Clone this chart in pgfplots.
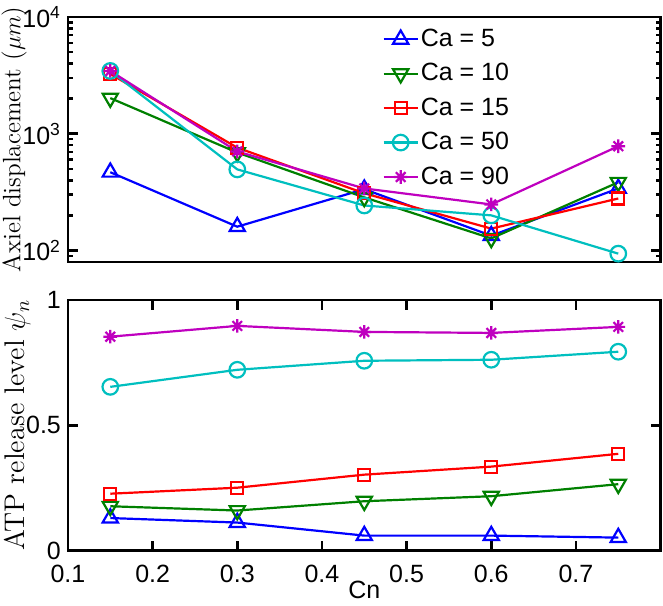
\documentclass[border=0pt]{standalone}
\usepackage{fontspec}
\setsansfont{Liberation Sans}
\usepackage{pgfplots}
\pgfplotsset{compat=1.18}

% MATLAB-style '*' marker: plus and cross together
\pgfdeclareplotmark{mstar}{%
  \pgfpathmoveto{\pgfqpoint{0pt}{\pgfplotmarksize}}\pgfpathlineto{\pgfqpoint{0pt}{-\pgfplotmarksize}}%
  \pgfpathmoveto{\pgfqpoint{\pgfplotmarksize}{0pt}}\pgfpathlineto{\pgfqpoint{-\pgfplotmarksize}{0pt}}%
  \pgfpathmoveto{\pgfqpoint{0.707\pgfplotmarksize}{0.707\pgfplotmarksize}}\pgfpathlineto{\pgfqpoint{-0.707\pgfplotmarksize}{-0.707\pgfplotmarksize}}%
  \pgfpathmoveto{\pgfqpoint{-0.707\pgfplotmarksize}{0.707\pgfplotmarksize}}\pgfpathlineto{\pgfqpoint{0.707\pgfplotmarksize}{-0.707\pgfplotmarksize}}%
  \pgfusepathqstroke}

\definecolor{mblue}{rgb}{0,0,1}
\definecolor{mgreen}{rgb}{0,0.5,0}
\definecolor{mred}{rgb}{1,0,0}
\definecolor{mcyan}{rgb}{0,0.75,0.75}
\definecolor{mmag}{rgb}{0.75,0,0.75}

\pgfplotsset{
  mstyle/.style={
    scale only axis, width=296.5pt,
    xmin=0.1, xmax=0.8,
    axis line style={line width=1.3pt},
    every tick/.style={line width=1.3pt, black},
    major tick length=5pt, minor tick length=2.5pt,
    tick align=inside,
    tick label style={font=\fontsize{12.5}{14}\sffamily},
    xticklabel style={yshift=-3.5pt},
    ylabel shift=-9pt,
    xlabel style={font=\fontsize{12.5}{14}\sffamily},
    /pgf/number format/assume math mode=true,
    every axis plot/.append style={line width=1.1pt, mark options={solid}},
  },
  s5/.style={mblue, mark=triangle, mark size=4.4pt},
  s10/.style={mgreen, mark=triangle, mark size=4.4pt, mark options={rotate=180}},
  s15/.style={mred, mark=square, mark size=3pt},
  s50/.style={mcyan, mark=o, mark size=3.9pt},
  s90/.style={mmag, mark=mstar, mark size=3.4pt},
}

\begin{document}
\begin{tikzpicture}
\begin{axis}[
  mstyle, name=top, height=122.5pt,
  ymode=log, log basis y=10, ymin=80, ymax=10000,
  yticklabel={10\textsuperscript{\pgfmathparse{int(round(\tick))}\pgfmathresult}},
  xtick=\empty,
  ylabel={Axiel displacement ($\mu m$)},
  ylabel style={font=\fontsize{12.6}{15}\selectfont},
  legend cell align={left},
  legend style={draw=none, fill=none, at={(0.52,0.985)}, anchor=north west,
    font=\fontsize{12.5}{14}\sffamily, row sep=3pt, nodes={inner xsep=1pt}},
]
\addplot[s5] coordinates {(0.15,468) (0.3,160) (0.45,335) (0.6,134) (0.75,340)};
\addlegendentry{Ca = 5}
\addplot[s10] coordinates {(0.15,2020) (0.3,690) (0.45,285) (0.6,127) (0.75,384)};
\addlegendentry{Ca = 10}
\addplot[s15] coordinates {(0.15,3250) (0.3,760) (0.45,309) (0.6,154) (0.75,279)};
\addlegendentry{Ca = 15}
\addplot[s50] coordinates {(0.15,3450) (0.3,495) (0.45,243) (0.6,200) (0.75,94)};
\addlegendentry{Ca = 50}
\addplot[s90] coordinates {(0.15,3450) (0.3,705) (0.45,340) (0.6,248) (0.75,782)};
\addlegendentry{Ca = 90}
\end{axis}
\begin{axis}[
  mstyle, name=bot, at={(top.south west)}, anchor=north west, yshift=-19pt, height=125.5pt,
  ymin=0, ymax=1, ytick={0,0.5,1},
  xtick={0.1,0.2,0.3,0.4,0.5,0.6,0.7},
  xticklabels={0.1,0.2,0.3,0.4,0.5,0.6,0.7},
  xlabel={Cn},
  xlabel style={yshift=7.5pt},
  ylabel={ATP release level $\psi_n$},
  ylabel style={font=\fontsize{14.2}{16}\selectfont},
]
\addplot[s5] coordinates {(0.15,0.13) (0.3,0.112) (0.45,0.06) (0.6,0.06) (0.75,0.052)};
\addplot[s10] coordinates {(0.15,0.177) (0.3,0.16) (0.45,0.197) (0.6,0.217) (0.75,0.265)};
\addplot[s15] coordinates {(0.15,0.227) (0.3,0.251) (0.45,0.303) (0.6,0.335) (0.75,0.386)};
\addplot[s50] coordinates {(0.15,0.653) (0.3,0.721) (0.45,0.757) (0.6,0.761) (0.75,0.793)};
\addplot[s90] coordinates {(0.15,0.853) (0.3,0.896) (0.45,0.872) (0.6,0.868) (0.75,0.892)};
\end{axis}
\pgfresetboundingbox
\path[use as bounding box] ([xshift=-34pt,yshift=8.5pt]top.north west) rectangle ([xshift=1.2pt,yshift=-27.5pt]bot.south east);
\end{tikzpicture}
\end{document}
